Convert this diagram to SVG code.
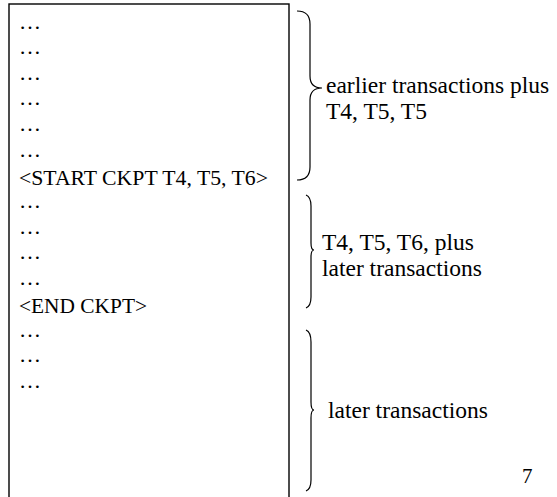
<svg xmlns="http://www.w3.org/2000/svg" width="557" height="497" viewBox="0 0 557 497">
<style>
text{font-family:"Liberation Serif","Times New Roman",serif;fill:#000}
.l{font-size:22px}
.r{font-size:23.5px}
.brace{fill:none;stroke:#000;stroke-width:1.2}
</style>
<rect width="557" height="497" fill="#fff"/>
<g id="log">
<rect x="9" y="4" width="280" height="500" fill="none" stroke="#000" stroke-width="1.4"/>
<text class="l" x="19" y="29">…</text>
<text class="l" x="19" y="54">…</text>
<text class="l" x="19" y="80">…</text>
<text class="l" x="19" y="105">…</text>
<text class="l" x="19" y="131">…</text>
<text class="l" x="19" y="157">…</text>
<text class="l" x="19" y="185" textLength="249" lengthAdjust="spacingAndGlyphs">&lt;START CKPT T4, T5, T6&gt;</text>
<text class="l" x="19" y="208">…</text>
<text class="l" x="19" y="234">…</text>
<text class="l" x="19" y="259">…</text>
<text class="l" x="19" y="285">…</text>
<text class="l" x="19" y="313" textLength="128" lengthAdjust="spacingAndGlyphs">&lt;END CKPT&gt;</text>
<text class="l" x="19" y="337">…</text>
<text class="l" x="19" y="362">…</text>
<text class="l" x="19" y="388">…</text>
</g>
<g id="connectors">
<path class="brace" d="M297,11 Q310,11 310,24 L310,76 Q310,88 322,88 Q310,88 310,100 L310,167 Q310,180 297,180"/>
<path class="brace" d="M306,195 Q311,197 311,206 L311,243 Q311,250 314,250 Q311,250 311,257 L311,297 Q311,306 306,308"/>
<path class="brace" d="M306,330 Q311,332 311,342 L311,402 Q311,410 314,410 Q311,410 311,418 L311,480 Q311,489 306,491"/>
</g>
<g id="label1">
<text class="r" x="326" y="93">earlier transactions plus</text>
<text class="r" x="326" y="119">T4, T5, T5</text>
</g>
<g id="label2">
<text class="r" x="322" y="250">T4, T5, T6, plus</text>
<text class="r" x="322" y="276">later transactions</text>
</g>
<g id="label3">
<text class="r" x="328" y="418">later transactions</text>
</g>
<text x="522" y="483" font-size="21">7</text>
</svg>
